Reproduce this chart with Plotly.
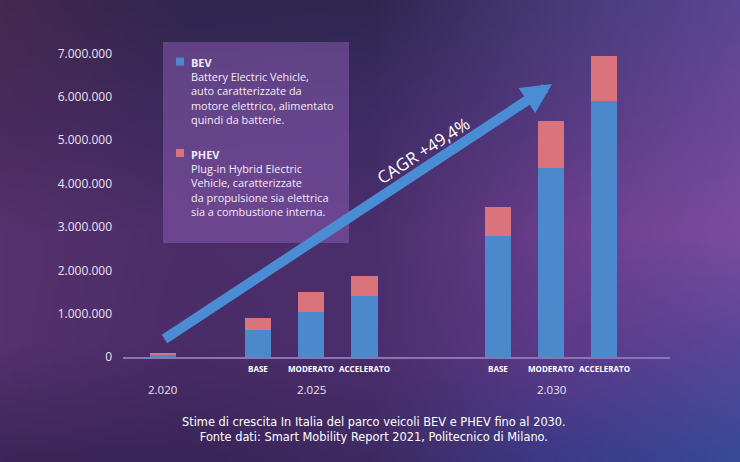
import base64, struct, zlib
import numpy as np
import plotly.graph_objects as go

# ---------------- data ----------------
bar_years = ["2.020", "2.025", "2.025", "2.025", "2.030", "2.030", "2.030"]
bar_scenarios = ["", "BASE", "MODERATO", "ACCELERATO", "BASE", "MODERATO", "ACCELERATO"]
bev = [65000, 620000, 1030000, 1400000, 2780000, 4360000, 5900000]
phev = [35000, 270000, 460000, 480000, 690000, 1090000, 1040000]
year_labels = ["2.020", "2.025", "2.030"]
y_ticks = [0, 1000000, 2000000, 3000000, 4000000, 5000000, 6000000, 7000000]

BEV_COLOR = "#4c88cc"
PHEV_COLOR = "#da737b"
ARROW_COLOR = "#4b8dd4"

# ---------------- layout helpers ----------------
W, H = 740, 462
L, R, T, B = 123, 70, 40, 105          # plot area: x 123..670, y 40..357
PW, PH = W - L - R, H - T - B
UNIT = 53.3                            # px per bar step
group_center = {"2.020": 0.75, "2.025": 3.53, "2.030": 8.03}
scen_offset = {"": 0, "BASE": -1, "MODERATO": 0, "ACCELERATO": 1}
xpos = [group_center[y] + scen_offset[s] for y, s in zip(bar_years, bar_scenarios)]

def px(x):
    return (x - L) / PW

def py(y):
    return (H - B - y) / PH

# ---------------- background gradient image ----------------
ctrl = [
    ["#46284f", "#30264f", "#2f2750", "#463a78", "#5a4692"],
    ["#4a2a5c", "#3c2a5e", "#3e2c66", "#553a80", "#6c4898"],
    ["#57316d", "#4c2d68", "#4a2e6c", "#6a3e8c", "#7c4c9e"],
    ["#56316f", "#4a2c68", "#4c2e6e", "#5e3a88", "#5a4698"],
    ["#3c2658", "#3a2558", "#3e2a62", "#3c3a88", "#374a98"],
]
def hex2rgb(h):
    h = h.lstrip("#")
    return [int(h[i:i + 2], 16) for i in (0, 2, 4)]
C = np.array([[hex2rgb(c) for c in row] for row in ctrl], dtype=float)
gw, gh = 148, 92
gy = np.linspace(0, C.shape[0] - 1, gh)
gx = np.linspace(0, C.shape[1] - 1, gw)
img = np.zeros((gh, gw, 3))
for j, yy in enumerate(gy):
    j0 = min(int(yy), C.shape[0] - 2); fy = yy - j0
    rowc = C[j0] * (1 - fy) + C[j0 + 1] * fy
    for i, xx in enumerate(gx):
        i0 = min(int(xx), C.shape[1] - 2); fx = xx - i0
        img[j, i] = rowc[i0] * (1 - fx) + rowc[i0 + 1] * fx
img = np.clip(img, 0, 255).astype(np.uint8)

def png_bytes(arr):
    h, w, _ = arr.shape
    raw = b"".join(b"\x00" + arr[r].tobytes() for r in range(h))
    def chunk(tag, data):
        return struct.pack(">I", len(data)) + tag + data + struct.pack(">I", zlib.crc32(tag + data) & 0xffffffff)
    return (b"\x89PNG\r\n\x1a\n" + chunk(b"IHDR", struct.pack(">IIBBBBB", w, h, 8, 2, 0, 0, 0))
            + chunk(b"IDAT", zlib.compress(raw, 9)) + chunk(b"IEND", b""))
bg_src = "data:image/png;base64," + base64.b64encode(png_bytes(img)).decode()

# ---------------- figure ----------------
fig = go.Figure()
fig.add_trace(go.Bar(x=xpos, y=bev, name="BEV", marker=dict(color=BEV_COLOR, line=dict(width=0)), width=0.49))
fig.add_trace(go.Bar(x=xpos, y=phev, name="PHEV", marker=dict(color=PHEV_COLOR, line=dict(width=0)), width=0.49))

TXT = "#ece2f3"
FONT = "Open Sans"
ann = []
# scenario labels
for x, s in zip(xpos, bar_scenarios):
    if s:
        ann.append(dict(x=x, y=0, xref="x", yref="paper", text=f"<b>{s}</b>", showarrow=False,
                        yshift=-11, yanchor="middle", font=dict(family=FONT, size=8, color="#ffffff")))
# year labels
for yl in year_labels:
    ann.append(dict(x=group_center[yl], y=0, xref="x", yref="paper", text=yl, showarrow=False,
                    yshift=-32, yanchor="middle", font=dict(family=FONT, size=11.5, color=TXT)))
# caption
ann.append(dict(x=px(374), y=py(429), xref="paper", yref="paper", showarrow=False, align="center",
                text="Stime di crescita In Italia del parco veicoli BEV e PHEV fino al 2030.<br>"
                     "Fonte dati: Smart Mobility Report 2021, Politecnico di Milano.",
                font=dict(family="DejaVu Sans", size=11.4, color="#ffffff"), yanchor="middle"))
# legend texts
LEG_FONT = dict(family=FONT, size=10.9, color="#f3ebf7")
ann.append(dict(x=px(189), y=py(53), xref="paper", yref="paper", showarrow=False, align="left",
                xanchor="left", yanchor="top",
                text="<b>BEV</b><br>Battery Electric Vehicle,<br>auto caratterizzate da<br>"
                     "motore elettrico, alimentato<br>quindi da batterie.",
                font=LEG_FONT))
ann.append(dict(x=px(189), y=py(145), xref="paper", yref="paper", showarrow=False, align="left",
                xanchor="left", yanchor="top",
                text="<b>PHEV</b><br>Plug-in Hybrid Electric<br>Vehicle, caratterizzate<br>"
                     "da propulsione sia elettrica<br>sia a combustione interna.",
                font=LEG_FONT))
# arrow
ann.append(dict(x=px(552), y=py(84), xref="paper", yref="paper", ax=163 - 552, ay=340 - 84,
                axref="pixel", ayref="pixel", showarrow=True, arrowhead=2, arrowsize=0.6,
                arrowwidth=10, arrowcolor=ARROW_COLOR, text=""))
# CAGR
ann.append(dict(x=px(423), y=py(150), xref="paper", yref="paper", showarrow=False, textangle=-33,
                text="CAGR +49,4%", font=dict(family=FONT, size=17, color="#ffffff")))

shapes = [
    dict(type="rect", xref="paper", yref="paper", x0=px(163), x1=px(349), y0=py(243), y1=py(42),
         fillcolor="rgba(150,100,190,0.45)", line=dict(width=0), layer="below"),
    dict(type="rect", xref="paper", yref="paper", x0=px(176), x1=px(184), y0=py(65.5), y1=py(57.5),
         fillcolor=BEV_COLOR, line=dict(width=0)),
    dict(type="rect", xref="paper", yref="paper", x0=px(176), x1=px(184), y0=py(157), y1=py(149),
         fillcolor=PHEV_COLOR, line=dict(width=0)),
]

fig.update_layout(
    width=W, height=H, margin=dict(l=L, r=R, t=T, b=B),
    barmode="stack", showlegend=False, separators=",.",
    paper_bgcolor="#3e2a62", plot_bgcolor="rgba(0,0,0,0)",
    font=dict(family=FONT, color=TXT),
    annotations=ann, shapes=shapes,
    images=[dict(source=bg_src, xref="paper", yref="paper", x=px(0), y=py(0),
                 sizex=W / PW, sizey=H / PH, xanchor="left", yanchor="top",
                 sizing="stretch", layer="below")],
    xaxis=dict(range=[0, PW / UNIT], showgrid=False, zeroline=False, showticklabels=False,
               showline=True, linecolor="#8f72b4", linewidth=1.5, fixedrange=True),
    yaxis=dict(range=[0, PH / 43.35 * 1e6], tickvals=y_ticks, tickformat=",d", showgrid=False,
               zeroline=False, ticks="", ticklabelstandoff=10,
               tickfont=dict(family=FONT, size=12, color=TXT), fixedrange=True),
)

fig.write_html("out.html", config={"displayModeBar": False})
with open("out.html", "r", encoding="utf-8") as f:
    html = f.read()
html = html.replace("<head>", "<head><style>html,body{margin:0;padding:0;overflow:hidden;}</style>", 1)
with open("out.html", "w", encoding="utf-8") as f:
    f.write(html)
